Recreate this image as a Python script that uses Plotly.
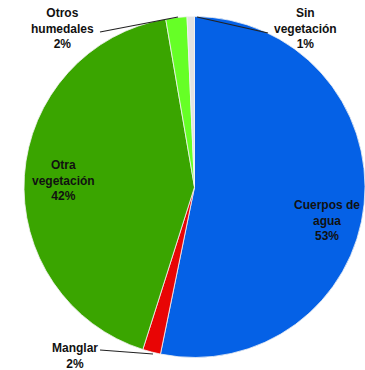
import plotly.graph_objects as go

categories = ["Cuerpos de agua", "Manglar", "Otra vegetación", "Otros humedales", "Sin vegetación"]
values = [53.2, 1.7, 42.4, 2.0, 0.7]
display_names = ["Cuerpos de<br>agua", "Manglar", "Otra<br>vegetación", "Otros<br>humedales", "Sin<br>vegetación"]
colors = ["#0561E6", "#E80505", "#3AA500", "#66FF26", "#E2E2E2"]

W, H = 365, 370
FONT = dict(family="Liberation Sans, Arial, sans-serif", size=12, color="#111111")

fig = go.Figure(go.Pie(
    labels=categories,
    values=values,
    sort=False,
    direction="clockwise",
    rotation=0,
    marker=dict(colors=colors, line=dict(color="#F2F2F2", width=0.8)),
    textinfo="none",
    hoverinfo="label+percent",
    showlegend=False,
    domain=dict(x=[195/W - 171/W, 1.0], y=[1 - 358/H, 1 - 16/H]),
))

def px(x): return x / W
def py(y): return 1 - y / H

total = sum(values)
pct = {c: round(v / total * 100) for c, v in zip(categories, values)}

# label placement (pixel centres) and optional leader lines
label_pos = {
    "Cuerpos de agua": (327, 220, None),
    "Otra vegetación": (63, 180, None),
    "Otros humedales": (62, 29, ((100, 32), (178, 17))),
    "Sin vegetación": (305, 29, ((268, 33), (197, 17))),
    "Manglar": (75, 356, ((100, 350), (153, 354))),
}
for cat, (tx, ty, line) in label_pos.items():
    i = categories.index(cat)
    fig.add_annotation(x=px(tx), y=py(ty), xref="paper", yref="paper",
                       xanchor="center", yanchor="middle",
                       text=f"<b>{display_names[i]}<br>{pct[cat]}%</b>",
                       showarrow=False, font=FONT, align="center")
    if line:
        p0, p1 = line
        fig.add_shape(type="line", xref="paper", yref="paper",
                      x0=px(p0[0]), y0=py(p0[1]), x1=px(p1[0]), y1=py(p1[1]),
                      line=dict(color="#222222", width=1.2))

fig.update_layout(width=W, height=H, margin=dict(l=0, r=0, t=0, b=0),
                  paper_bgcolor="white", plot_bgcolor="white")
fig.write_html("out.html")
